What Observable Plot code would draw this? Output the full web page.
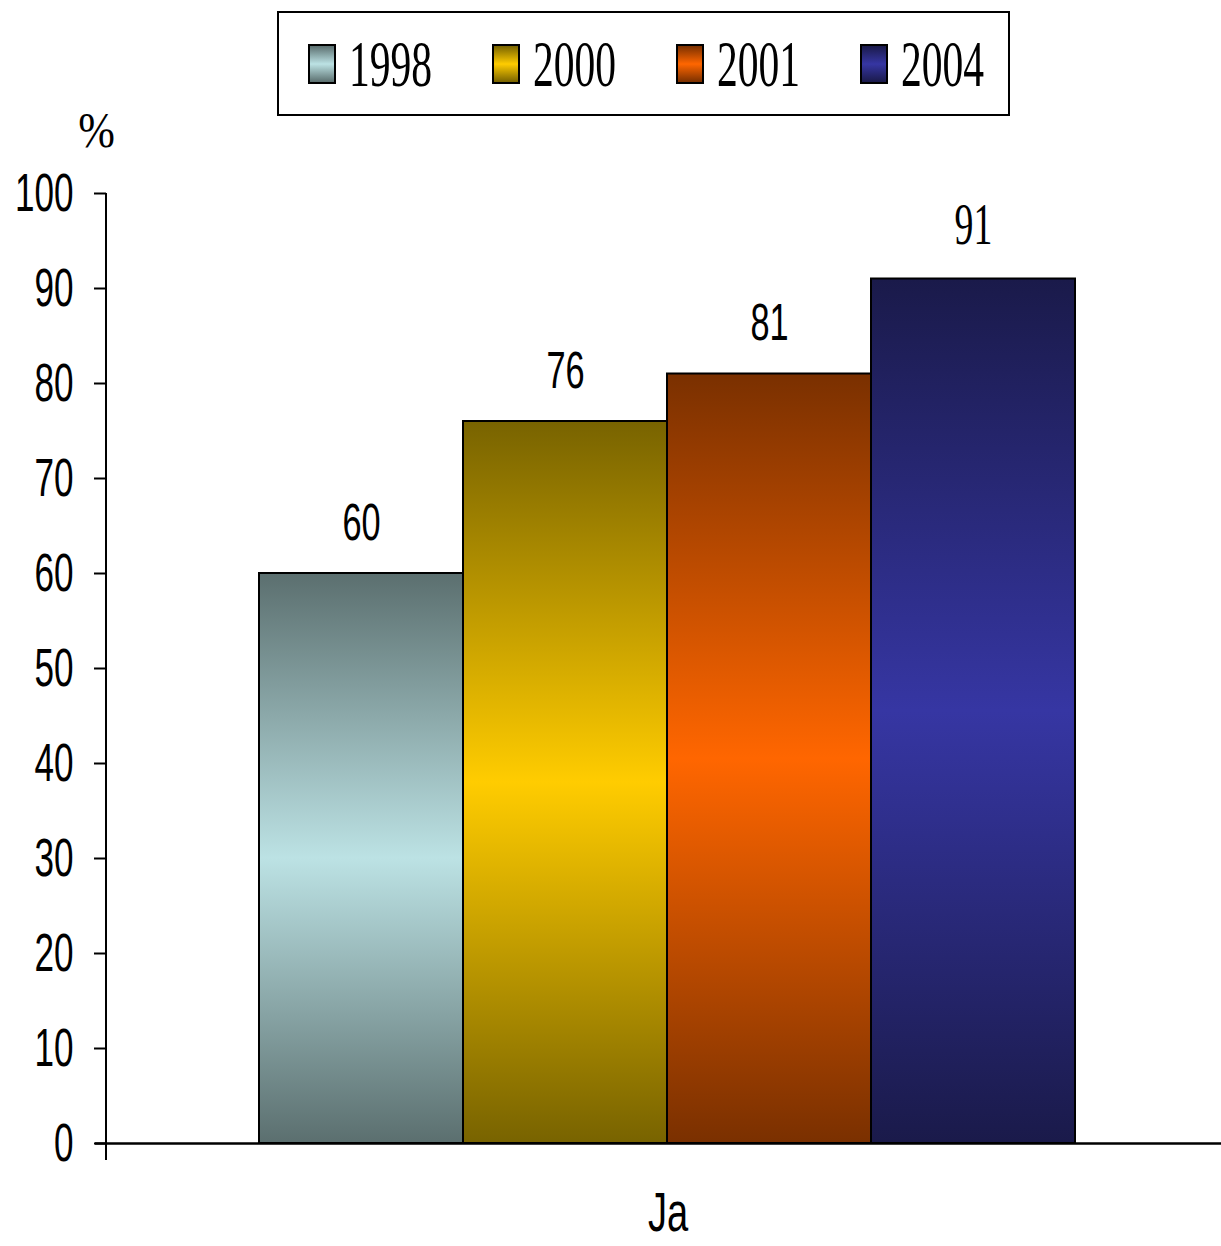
<!DOCTYPE html>
<html>
<head>
<meta charset="utf-8">
<script src="https://cdn.jsdelivr.net/npm/d3@7"></script>
<script src="https://cdn.jsdelivr.net/npm/@observablehq/plot@0.6"></script>
<style>
  body { margin: 0; background: #fff; }
  #wrap { position: relative; width: 1221px; height: 1246px; overflow: hidden; }
  #legend { position: absolute; left: 277px; top: 11px; width: 733px; height: 105px;
            border: 2px solid #000; box-sizing: border-box; background: #fff; }
  .item { position: absolute; top: 31px; height: 40px; display: flex; align-items: center; }
  .sw { width: 28px; height: 40px; border: 2px solid #000; box-sizing: border-box; flex: none; }
  .lab { font-family: "Liberation Serif", "Times New Roman", serif; font-size: 66px; line-height: 1;
         transform: scaleX(0.63); transform-origin: left center; margin-left: 13px; white-space: nowrap; }
  #chart { position: absolute; left: 0; top: 120px; }
</style>
</head>
<body>
<div id="wrap">
  <div id="legend"></div>
  <div id="chart"></div>
</div>
<script>
// ---- data ----
const groups = ["Ja"];
const years = ["1998", "2000", "2001", "2004"];
const values = [60, 76, 81, 91];
const yTicks = [0, 10, 20, 30, 40, 50, 60, 70, 80, 90, 100];

// ---- palette (gradient end and middle colours per year) ----
const darkColors = ["#5b6f6f", "#786300", "#7a3000", "#1a1a4a"];
const lightColors = ["#bce2e4", "#ffcc00", "#ff6600", "#3636a3"];

const data = years.map((year, i) => ({ group: groups[0], year, value: values[i] }));
const gradId = (year) => `grad-${year}`;

// ---- legend ----
const legend = d3.select("#legend");
years.forEach((y, i) => {
  const it = legend.append("div").attr("class", "item").style("left", (29 + i * 184) + "px");
  it.append("div").attr("class", "sw")
    .style("background", `linear-gradient(to bottom, ${darkColors[i]}, ${lightColors[i]} 50%, ${darkColors[i]})`);
  it.append("span").attr("class", "lab").text(y);
});

// ---- chart ----
const sans = "'Liberation Sans', Arial, sans-serif";
const serif = "'Liberation Serif', 'Times New Roman', serif";

function defsMark(index, scales, values, dimensions, context) {
  const g = d3.create("svg:g");
  const defs = g.append("defs");
  years.forEach((y, i) => {
    const lg = defs.append("linearGradient").attr("id", gradId(y))
      .attr("x1", 0).attr("y1", 0).attr("x2", 0).attr("y2", 1);
    lg.append("stop").attr("offset", "0%").attr("stop-color", darkColors[i]);
    lg.append("stop").attr("offset", "50%").attr("stop-color", lightColors[i]);
    lg.append("stop").attr("offset", "100%").attr("stop-color", darkColors[i]);
  });
  return g.node();
}

function yAxisLine(index, scales, values, dimensions, context) {
  const g = d3.create("svg:g");
  g.append("line")
    .attr("x1", dimensions.marginLeft).attr("x2", dimensions.marginLeft)
    .attr("y1", scales.y(100)).attr("y2", scales.y(0) + 17)
    .attr("stroke", "#000").attr("stroke-width", 2);
  return g.node();
}

const plot = Plot.plot({
  width: 1221,
  height: 1126,
  marginTop: 73,
  marginBottom: 103,
  marginLeft: 106,
  marginRight: 0,
  style: { background: "#fff", color: "#000", overflow: "visible" },
  fx: { padding: 0, label: null },
  x: { domain: years, paddingInner: 0, paddingOuter: 0.73, align: 0.513, axis: null },
  y: { domain: [0, 100], label: null },
  color: { type: "identity" },
  marks: [
    defsMark,
    Plot.barY(data, { fx: "group", x: "year", y: "value", fill: (d) => `url(#${gradId(d.year)})`,
                      stroke: "#000", strokeWidth: 2 }),
    Plot.ruleY([0], { insetLeft: -11, stroke: "#000", strokeWidth: 2.5 }),
    yAxisLine,
    Plot.axisY({ ticks: yTicks, tickSize: 12, tickPadding: 21, fontSize: 54, fontFamily: sans,
                 strokeWidth: 2, label: null }),
    Plot.text(data, { filter: (d) => d.year !== "2004", fx: "group", x: "year", y: "value", text: "value",
                      dy: -34, lineAnchor: "bottom", fontSize: 52, fontFamily: sans, fill: "#000" }),
    Plot.text(data, { filter: (d) => d.year === "2004", fx: "group", x: "year", y: "value", text: "value",
                      dy: -35, lineAnchor: "bottom", fontSize: 60, fontFamily: serif, fill: "#000" }),
    Plot.text(["%"], { frameAnchor: "top-left", dx: -10, dy: -63, lineAnchor: "middle", textAnchor: "middle",
                       fontSize: 50, fontFamily: serif, fill: "#000" }),
    Plot.axisFx({ anchor: "bottom", tickSize: 0, tickPadding: 48, dx: 4, fontSize: 56, fontFamily: sans, label: null })
  ]
});

// horizontally condense text (the original uses very narrow glyphs)
const condenseBySize = { "54": 0.65, "52": 0.66, "60": 0.63, "50": 0.88, "56": 0.68 };
plot.querySelectorAll("text").forEach((el) => {
  const holder = el.closest("[font-size]");
  if (!holder) return;
  const k = condenseBySize[holder.getAttribute("font-size")];
  if (!k) return;
  const t = el.getAttribute("transform");
  if (t) {
    el.setAttribute("transform", t + ` scale(${k},1)`);
  } else {
    const x = +(el.getAttribute("x") || 0);
    el.removeAttribute("x");
    el.setAttribute("transform", `translate(${x},0) scale(${k},1)`);
  }
});

document.getElementById("chart").appendChild(plot);
</script>
</body>
</html>
